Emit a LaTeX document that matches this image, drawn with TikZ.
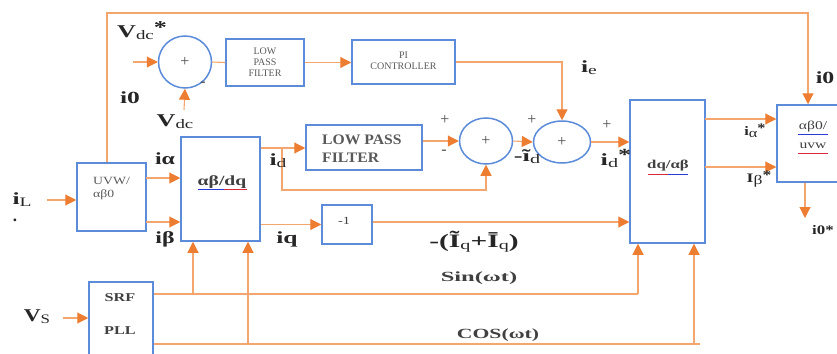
\documentclass[tikz,border=0pt]{standalone}
\usepackage{fontspec}
\setmainfont{Liberation Serif}
\usetikzlibrary{arrows.meta,shapes.geometric,calc}
\definecolor{bx}{HTML}{5B8BD9}
\definecolor{oline}{HTML}{F4A66E}
\definecolor{otip}{HTML}{ED7D31}
\definecolor{ulb}{HTML}{2B3BD9}
\definecolor{ulr}{HTML}{D9283B}
\newcommand{\lsub}[1]{\raisebox{-2pt}{\fontsize{13}{13}\selectfont\mdseries #1}}
\newcommand{\hs}[2]{\scalebox{#1}[1]{#2}}
\tikzset{
 blk/.style={draw=bx, line width=1.5pt, rectangle, inner sep=0pt},
 sumc/.style={draw=bx, line width=1.5pt, ellipse, inner sep=0pt, font=\fontsize{16}{16}\selectfont, text=black!70},
 conn/.style={draw=oline, line width=1.1pt},
 arr/.style={conn, -{Triangle[length=11pt,width=11pt,color=otip]}},
 lbl/.style={inner sep=0pt, font=\fontsize{17}{17}\selectfont\bfseries, text=black!85},
 sml/.style={inner sep=0pt, font=\fontsize{10}{11}\selectfont, text=black!65, align=center},
 mid/.style={inner sep=0pt, font=\fontsize{14}{17}\selectfont, text=black!75},
 sig/.style={inner sep=0pt, font=\fontsize{16}{16}\selectfont, text=black!70},
 ulblue/.style={draw=ulb, line width=1pt},
 ulred/.style={draw=ulr, line width=1pt},
}
\begin{document}
\begin{tikzpicture}[x=1pt,y=-1pt]
\useasboundingbox (0,0) rectangle (837,353);
% boxes
\node[blk, minimum width=69pt, minimum height=68pt] (uvw) at (111.5,197) {};
\node[blk, minimum width=79pt, minimum height=104pt] (abdq) at (220.5,189) {};
\node[blk, minimum width=64pt, minimum height=78pt] (srf) at (121,321) {};
\node[blk, minimum width=78pt, minimum height=47pt] (lpfa) at (265,62.5) {};
\node[blk, minimum width=103pt, minimum height=44pt] (pi) at (403.5,62) {};
\node[blk, minimum width=116pt, minimum height=45pt] (lpfb) at (364,147.5) {};
\node[blk, minimum width=50pt, minimum height=39pt] (neg) at (347,224.5) {};
\node[blk, minimum width=75pt, minimum height=143pt] (dqab) at (667.5,171.5) {};
\node[blk, minimum width=83pt, minimum height=77pt] (abo) at (818.5,143.5) {};
% summing junctions
\node[sumc, minimum width=53pt, minimum height=52pt] (s1) at (185,62) {+};
\node[sumc, minimum width=53pt, minimum height=46pt] (s2) at (486,141) {+};
\node[sumc, minimum width=57pt, minimum height=42pt] (s3) at (562,142) {+};
% box texts
\node[sml, font=\fontsize{11}{12}\selectfont, align=left, anchor=west] (tuvw) at (93,189) {\hs{1.25}{UVW/}\\[1pt]\hs{1.25}{αβ0}};
\node[mid, font=\fontsize{14}{14}\selectfont\bfseries] (tabdq) at (222,182) {\hs{1.4}{αβ/dq}};
\draw[ulblue] (198,189) -- (224,189);
\draw[ulred] (224,189) -- (247,189);
\node[mid, font=\fontsize{12}{12}\selectfont\bfseries] (tsrf) at (120,298) {\hs{1.35}{SRF}};
\node[mid, font=\fontsize{12}{12}\selectfont\bfseries] (tpll) at (120,331) {\hs{1.35}{PLL}};
\node[sml] (tlpfa) at (265,62) {LOW\\PASS\\FILTER};
\node[sml] (tpi) at (403.5,61) {PI\\CONTROLLER};
\node[mid, font=\fontsize{14.5}{18}\selectfont\bfseries, text=black!65, align=left, anchor=west] (tlpfb) at (322,149) {\hs{1.08}{LOW PASS}\\\hs{1.08}{FILTER}};
\node[mid, font=\fontsize{11}{11}\selectfont] (tneg) at (344,221) {\hs{1.3}{-1}};
\node[mid, font=\fontsize{12}{12}\selectfont\bfseries] (tdqab) at (668,166) {\hs{1.4}{dq/αβ}};
\draw[ulred] (648,174) -- (668,174);
\draw[ulblue] (668,174) -- (688,174);
\node[mid, font=\fontsize{12}{12}\selectfont] (tabo1) at (813,127) {\hs{1.3}{αβ0/}};
\node[mid, font=\fontsize{12}{12}\selectfont] (tabo2) at (813,146) {\hs{1.3}{uvw}};
\draw[ulblue] (798,134) -- (828,134);
\draw[ulred] (798,153) -- (828,153);
% coordinates for free ends / bends
\coordinate (tl) at (107,13);
\coordinate (tr) at (808,13);
\coordinate (vin) at (133,62);
\coordinate (vdcin) at (184,110);
\coordinate (br) at (282,148);
\coordinate (ia) at (146,178);
\coordinate (ib) at (146,222);
\coordinate (ilin) at (47,200);
\coordinate (vsin) at (63,318);
\coordinate (sinb) at (193,294);
\coordinate (sinr) at (638,294);
\coordinate (cosb) at (248,344);
\coordinate (cosa) at (694,344);
\coordinate (cosr) at (700,344);
\coordinate (ra) at (705,119);
\coordinate (rb) at (705,167);
\coordinate (ioout) at (805,218);
% connectors
\draw[arr] ([xshift=-4.5pt]uvw.north) -- (tl) -- (tr) -- (tr |- abo.north);
\draw[arr] (vin) -- (s1.west);
\draw[arr] (vdcin) -- (s1.south);
\draw[conn] (s1.east) -- (lpfa.west);
\draw[arr] (lpfa.east) -- (lpfa.east -| pi.west);
\draw[arr] (pi.east) -| (s3.north);
\draw[arr] (abdq.east |- br) -- (lpfb.west |- br);
\draw[arr] (br) -- ++(0,42) -| (s2.south);
\draw[arr] (lpfb.east |- s2.west) -- (s2.west);
\draw[arr] (s2.east) -- (s3.west);
\draw[arr] (s3.east) -- (s3.east -| dqab.west);
\draw[arr] (ia) -- (ia -| abdq.west);
\draw[arr] (ib) -- (ib -| abdq.west);
\draw[arr] (ilin) -- (ilin -| uvw.west);
\draw[arr] (vsin) -- (vsin -| srf.west);
\draw[arr] (abdq.east |- neg.west) -- (neg.west);
\draw[arr] (neg.east |- 0,222) -- (dqab.west |- 0,222);
\draw[conn] (srf.east |- sinr) -- (sinr);
\draw[arr] (sinr) -- (sinr |- dqab.south);
\draw[arr] (sinb) -- (sinb |- abdq.south);
\draw[conn] (srf.east |- cosr) -- (cosr);
\draw[arr] (cosb) -- (cosb |- abdq.south);
\draw[arr] (cosa) -- (cosa |- dqab.south);
\draw[arr] (ra) -- (ra -| abo.west);
\draw[arr] (rb) -- (rb -| abo.west);
\draw[arr] (abo.south -| ioout) -- (ioout);
% labels
\node[lbl, font=\fontsize{18}{18}\selectfont\bfseries] (lvdcs) at (142,31) {\hs{1.45}{V\lsub{dc}\raisebox{4pt}{*}}};
\node[lbl] (lio) at (130,98) {\hs{1.5}{i0}};
\node[lbl, font=\fontsize{18}{18}\selectfont\bfseries] (lvdc) at (175,122) {\hs{1.45}{V\lsub{dc}}};
\node[sig] (lm1) at (203,84) {-};
\node[lbl] (lie) at (589,68) {\hs{1.5}{i\lsub{e}}};
\node[lbl] (lio2) at (825,78) {\hs{1.4}{i0}};
\node[sig] (lp1) at (445,120) {+};
\node[sig] (lm2) at (444,152) {-};
\node[sig] (lp2) at (532,120) {+};
\node[sig] (lp3) at (607,125) {+};
\node[lbl] (ltd) at (527,157) {\hs{1.55}{-ĩ\lsub{d}}};
\node[lbl] (lids) at (616,158) {\hs{1.55}{i\lsub{d}\raisebox{5pt}{*}}};
\node[lbl, font=\fontsize{13}{13}\selectfont\bfseries] (lias) at (755,131) {\hs{1.25}{i\lsub{α}\raisebox{3pt}{*}}};
\node[lbl, font=\fontsize{13}{13}\selectfont\bfseries] (libs) at (759,179) {\hs{1.35}{I\lsub{β}\raisebox{3pt}{*}}};
\node[lbl, font=\fontsize{13}{13}\selectfont\bfseries] (lios) at (823,230) {\hs{1.3}{i0*}};
\node[lbl] (lia) at (165,159) {\hs{1.4}{iα}};
\node[lbl] (lib) at (165,239) {\hs{1.4}{iβ}};
\node[lbl] (lid) at (278,161) {\hs{1.5}{i\lsub{d}}};
\node[lbl] (liq) at (287,239) {\hs{1.5}{iq}};
\node[lbl, font=\fontsize{19}{19}\selectfont\bfseries] (liqt) at (474,242) {\hs{1.55}{-(Ĩ\lsub{q}+Ī\lsub{q})}};
\node[mid, font=\fontsize{14}{14}\selectfont\bfseries] (lsin) at (479,278) {\hs{1.75}{Sin(ωt)}};
\node[mid, font=\fontsize{14}{14}\selectfont\bfseries] (lcos) at (498,335) {\hs{1.55}{COS(ωt)}};
\node[lbl] (lil) at (22,200) {\hs{1.5}{i\lsub{L}}};
\node[lbl] (ldot) at (15,220) {.};
\node[lbl, font=\fontsize{18}{18}\selectfont\bfseries] (lvs) at (37,317) {\hs{1.3}{V\lsub{S}}};
\end{tikzpicture}
\end{document}
